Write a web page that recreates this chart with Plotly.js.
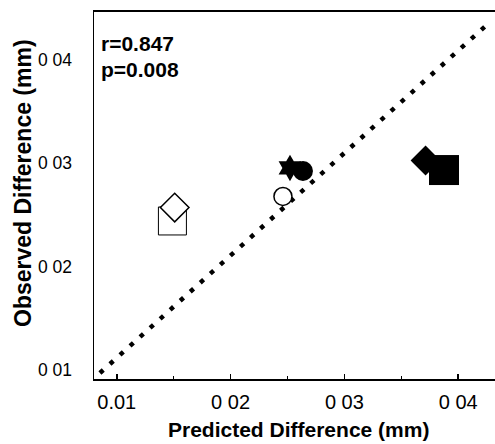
<!DOCTYPE html>
<html>
<head>
<meta charset="utf-8">
<script src="https://cdn.plot.ly/plotly-3.0.1.min.js"></script>
<style>
html,body{margin:0;padding:0;overflow:hidden;background:#fff;}
#chart{width:498px;height:444px;}
</style>
</head>
<body>
<div id="chart"></div>
<script>
// Data
var openSquareX = [0.01489], openSquareY = [0.02440];
var openDiamondX = [0.01509], openDiamondY = [0.02570];
var openCircleX = [0.02460], openCircleY = [0.02677];
var starX = [0.02522], starY = [0.02953];
var blackCircleX = [0.02636], blackCircleY = [0.02924];
var blackDiamondX = [0.03713], blackDiamondY = [0.03025];
var blackSquareX = [0.03875], blackSquareY = [0.02933];
var fitLineX = [0.00852, 0.04279];
var fitLineY = [0.00968, 0.04366];
var xTickVals = [0.01, 0.02, 0.03, 0.04];
var xTickText = ["0.01", "0 02", "0 03", "0 04"];
var yTickVals = [0.01, 0.02, 0.03, 0.04];
var yTickText = ["0 01", "0 02", "0 03", "0 04"];
var xTitle = "Predicted Difference (mm)";
var yTitle = "Observed Difference (mm)";
var statR = "r=0.847";
var statP = "p=0.008";

var FONT = "Liberation Sans, Arial, sans-serif";

var traces = [
  {x: fitLineX, y: fitLineY, mode: "lines", line: {color: "#000", width: 4.5, dash: "4.5px,9px"}, hoverinfo: "skip"},
  {x: openSquareX, y: openSquareY, mode: "markers", marker: {symbol: "square", size: 28, color: "#fff", line: {color: "#000", width: 1}}},
  {x: openDiamondX, y: openDiamondY, mode: "markers", marker: {symbol: "diamond", size: 22, color: "#fff", line: {color: "#000", width: 1.5}}},
  {x: openCircleX, y: openCircleY, mode: "markers", marker: {symbol: "circle", size: 18, color: "#fff", line: {color: "#000", width: 1.5}}},
  {x: starX, y: starY, mode: "markers", marker: {symbol: "hexagram", size: 20, color: "#000", line: {width: 0}}},
  {x: blackCircleX, y: blackCircleY, mode: "markers", marker: {symbol: "circle", size: 20, color: "#000", line: {width: 0}}},
  {x: blackDiamondX, y: blackDiamondY, mode: "markers", marker: {symbol: "diamond", size: 23, color: "#000", line: {width: 0}}},
  {x: blackSquareX, y: blackSquareY, mode: "markers", marker: {symbol: "square", size: 30, color: "#000", line: {width: 0}}}
];

var layout = {
  width: 498, height: 444,
  margin: {l: 94, r: 2, t: 12, b: 65},
  paper_bgcolor: "#fff", plot_bgcolor: "#fff",
  showlegend: false,
  font: {family: FONT, color: "#000"},
  xaxis: {
    range: [0.008, 0.04332],
    tickmode: "array", tickvals: xTickVals, ticktext: xTickText,
    ticks: "inside", ticklen: 5, tickwidth: 1.5, tickcolor: "#000",
    minor: {ticks: "inside", ticklen: 3, tickwidth: 1, tickcolor: "#000", tick0: 0, dtick: 0.005},
    showline: true, linecolor: "#000", linewidth: 2, mirror: true,
    showgrid: false, zeroline: false,
    tickfont: {size: 20, family: FONT},
    ticklabelstandoff: 4
  },
  yaxis: {
    range: [0.0091, 0.04463],
    tickmode: "array", tickvals: yTickVals, ticktext: yTickText,
    ticks: "",
    showline: true, linecolor: "#000", linewidth: 1.5,
    showgrid: false, zeroline: false,
    tickfont: {size: 17.5, family: FONT},
    ticklabelstandoff: 17
  },
  annotations: [
    {xref: "paper", yref: "paper", x: 0.012, y: 0.913, xanchor: "left", yanchor: "middle", showarrow: false,
     text: "<b>" + statR + "</b>", font: {size: 21, family: FONT, color: "#000"}},
    {xref: "paper", yref: "paper", x: 0.012, y: 0.842, xanchor: "left", yanchor: "middle", showarrow: false,
     text: "<b>" + statP + "</b>", font: {size: 21, family: FONT, color: "#000"}},
    {xref: "paper", yref: "paper", x: (298 - 94) / 402, y: -(429 - 379) / 367, xanchor: "center", yanchor: "middle", showarrow: false,
     text: "<b>" + xTitle + "</b>", font: {size: 21, family: FONT, color: "#000"}},
    {xref: "paper", yref: "paper", x: -(94 - 23) / 402, y: (379 - 183) / 367, xanchor: "center", yanchor: "middle", showarrow: false,
     textangle: -90, text: "<b>" + yTitle + "</b>", font: {size: 23, family: FONT, color: "#000"}}
  ]
};

Plotly.newPlot("chart", traces, layout, {displayModeBar: false, staticPlot: true});
</script>
</body>
</html>
